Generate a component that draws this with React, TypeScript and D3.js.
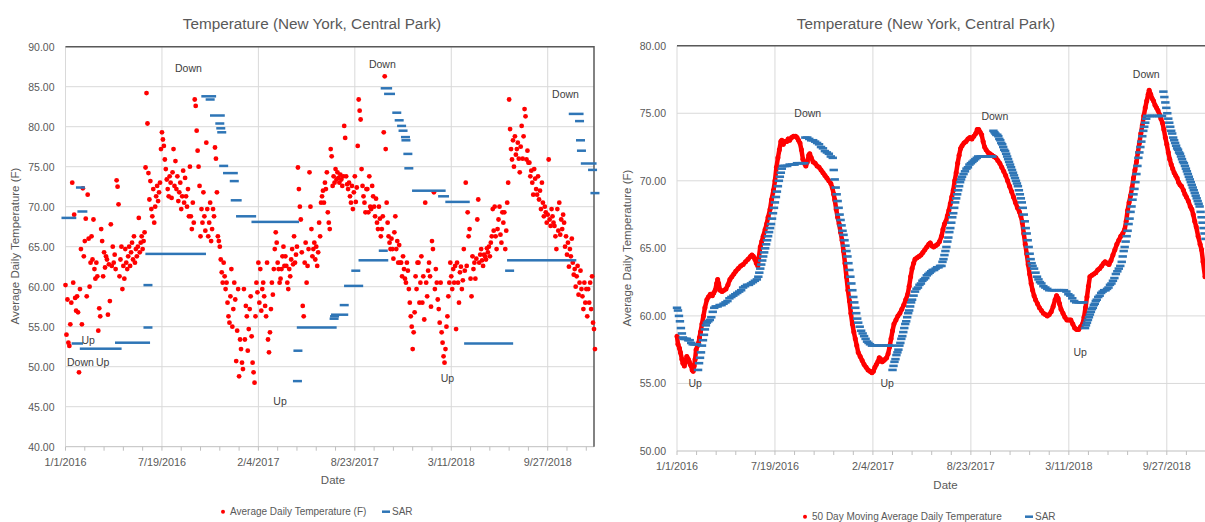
import React, { useEffect, useRef } from "react";
import * as d3 from "d3";

const startDate = new Date(2016, 0, 1);
const axisEnd = new Date(2019, 0, 1);

// Average daily temperature, one reading every 2 days from 1/1/2016
const temps2016 = [
  60.2, 54.0, 58.4, 53.0, 52.6, 55.3, 58.0, 73.0, 60.5, 69.0,
  58.6, 57.0, 58.8, 56.8, 49.3, 59.7, 64.7, 55.3, 72.3, 63.8,
  65.7, 68.5, 58.8, 71.5, 66.0, 60.0, 63.0, 66.3, 63.4, 68.4,
  62.2, 61.0, 63.0, 61.3, 54.5, 57.3, 56.3, 67.2, 65.7, 61.3,
  64.3, 62.4, 63.8, 63.4, 56.5, 62.8, 58.2, 67.8, 62.6, 65.0,
  63.0, 64.0, 62.2, 73.3, 72.5, 70.3, 61.3, 63.4, 65.0, 59.7,
  62.6, 61.0, 64.7, 63.0, 62.2, 63.8, 65.0, 62.6, 64.3, 65.5,
  63.4, 66.3, 63.0, 64.7, 63.8, 65.0, 68.6, 64.3, 65.5, 66.3,
  64.7, 65.7, 66.8, 74.9, 84.2, 80.4, 74.2, 70.9, 73.2, 69.7,
  68.8, 72.2, 68.0, 70.0, 71.3, 72.6, 70.7, 71.8, 73.0, 77.2,
  79.3, 78.4, 77.6, 75.9, 74.7, 73.4, 72.2, 71.3, 73.8, 73.0,
  71.1, 74.3, 77.2, 72.6, 75.7, 72.2, 73.8, 70.7, 71.8, 73.0,
  69.7, 71.3, 74.5, 70.5, 73.6, 71.3, 70.0, 72.2, 68.8, 75.0,
  68.8, 67.2, 70.5, 68.0, 83.4, 82.6, 79.5, 77.0, 75.0, 72.6,
  66.3, 69.7, 68.0, 71.8, 68.8, 67.0, 78.0, 69.7, 66.3, 68.0,
  70.5, 65.7, 67.2, 69.7, 68.8, 77.4, 76.0, 71.8, 66.3, 65.7,
  65.0, 63.4, 61.8, 60.5, 63.0, 61.3, 59.7, 60.5, 58.0, 56.3,
  55.5, 58.8, 62.2, 55.0, 57.2, 60.5, 58.4, 50.7, 54.5, 59.7,
  48.8, 53.4, 52.2,
];
const temps2017 = [
  50.5, 49.7, 59.7, 53.4, 57.6, 56.3, 52.0, 54.7, 57.2, 58.8,
  53.8, 50.5, 49.3, 48.0, 56.3, 60.5, 59.3, 63.0, 58.0, 62.2,
  57.0, 59.7, 60.5, 58.8, 57.6, 56.3, 63.0, 53.4, 51.8, 54.3,
  57.2, 60.5, 59.0, 62.2, 64.7, 66.8, 65.5, 63.0, 62.2, 60.5,
  61.0, 62.2, 63.8, 65.0, 62.6, 63.8, 62.6, 60.5, 59.7, 62.2,
  61.3, 63.4, 64.7, 62.8, 66.3, 63.0, 64.0, 65.0, 74.9, 72.2,
  70.0, 68.4, 64.3, 57.6, 56.3, 63.0, 65.5, 60.5, 62.6, 64.7,
  74.3, 70.0, 67.2, 63.8, 64.7, 65.5, 63.4, 65.0, 62.6, 64.3,
  68.0, 66.3, 70.5, 71.3, 72.0, 70.5, 73.0, 72.2, 74.3, 69.3,
  68.0, 67.2, 77.2, 76.3, 72.6, 73.8, 73.0, 74.7, 73.4, 74.3,
  73.6, 73.0, 74.0, 73.4, 72.6, 73.8, 80.1, 78.6, 73.8, 72.8,
  72.2, 73.0, 71.3, 70.5, 72.6, 69.7, 71.8, 73.8, 70.6, 72.4,
  77.6, 83.4, 82.0, 80.9, 74.7, 72.6, 71.3, 70.5, 69.3, 72.2,
  72.2, 69.3, 73.8, 70.0, 69.7, 72.6, 71.3, 70.0, 68.8, 71.0,
  68.0, 67.2, 70.0, 68.5, 66.3, 67.2, 68.8, 79.3, 86.3, 77.2,
  70.5, 68.0, 66.3, 65.5, 64.7, 66.0, 64.7, 63.5, 66.8, 68.8,
  64.7, 65.7, 63.0, 65.2, 63.0, 63.0, 61.3, 63.8, 62.2, 61.0,
  60.5, 63.0, 62.0, 59.7, 58.0, 56.3, 55.0, 52.2, 54.3, 56.8,
  61.3, 59.7, 63.0,
];
const temps2018 = [
  63.0, 58.0, 60.5, 63.8, 58.0, 61.3, 55.9, 70.5, 60.5, 58.8,
  62.0, 63.0, 61.3, 57.5, 65.7, 64.7, 71.8, 59.7, 62.2, 60.5,
  58.4, 57.2, 55.5, 60.5, 54.3, 53.0, 51.3, 50.5, 52.2, 55.0,
  56.3, 58.8, 60.5, 63.0, 61.3, 59.7, 62.2, 60.5, 62.6, 54.7,
  63.0, 60.5, 58.0, 61.8, 62.5, 59.7, 60.8, 64.7, 62.0, 73.0,
  62.6, 69.3, 66.3, 67.2, 61.0, 58.8, 63.8, 62.2, 63.0, 61.0,
  63.5, 68.4, 70.9, 63.0, 64.0, 64.7, 63.3, 62.6, 64.0, 63.8,
  63.4, 64.8, 64.3, 65.0, 63.8, 65.5, 66.3, 69.7, 67.0, 70.0,
  66.3, 64.7, 67.2, 68.4, 70.0, 66.5, 65.5, 69.3, 68.0, 69.3,
  64.7, 67.0, 70.5, 73.0, 83.4, 79.7, 77.2, 75.9, 78.3, 75.0,
  78.8, 76.5, 77.2, 78.0, 76.0, 74.3, 77.5, 80.1, 76.0, 78.8,
  82.2, 81.3, 75.9, 77.0, 75.5, 75.5, 73.8, 74.5, 73.0, 71.5,
  74.7, 73.5, 72.2, 71.5, 73.8, 70.9, 72.0, 69.7, 73.0, 70.5,
  68.8, 70.0, 69.3, 68.0, 69.0, 75.9, 68.4, 67.6, 69.7, 68.8,
  68.0, 67.6, 66.3, 64.7, 69.7, 67.0, 70.5, 66.5, 68.4, 67.2,
  69.0, 68.0, 65.0, 66.3, 64.0, 65.5, 62.5, 64.7, 63.8, 66.0,
  63.0, 61.5, 62.2, 60.0, 61.3, 62.6, 59.0, 60.5, 62.0, 59.7,
  58.8, 57.2, 60.5, 58.0, 59.7, 56.3, 59.7, 58.0, 60.5, 57.2,
  61.3, 55.5, 54.7, 52.2,
];
const tempStep = 2;

// SAR of the daily temperatures: [first day, last day, value], days since 1/1/2016
const sarDaily = [
  [1, 13, 68.6], [22, 27, 52.9], [31, 31, 72.4], [34, 36, 69.4], [39, 107, 52.25],
  [112, 166, 53.0], [171, 171, 54.9], [171, 171, 60.2], [175, 282, 64.1],
  [291, 303, 83.8], [300, 300, 83.4], [309, 321, 81.4], [320, 320, 80.4],
  [322, 322, 79.8], [324, 324, 79.3], [328, 328, 75.1], [336, 348, 74.2],
  [350, 350, 73.2], [352, 356, 70.8], [363, 386, 68.8], [395, 475, 68.1],
  [481, 481, 48.2], [482, 482, 52.0], [489, 553, 54.9], [557, 557, 56.0],
  [558, 558, 56.3], [560, 577, 56.5], [578, 578, 57.7], [587, 608, 60.1],
  [602, 602, 62.0], [617, 660, 63.3], [659, 659, 64.5], [663, 668, 84.8],
  [670, 674, 84.1], [687, 687, 81.75], [692, 692, 80.8], [697, 697, 80.1],
  [700, 700, 79.5], [705, 705, 78.7], [706, 706, 78.3], [710, 710, 76.6],
  [712, 712, 74.8], [728, 779, 72.0], [782, 786, 71.3], [797, 829, 70.6],
  [836, 919, 52.9], [921, 921, 62.0], [925, 1050, 63.3], [1053, 1065, 81.6],
  [1066, 1066, 80.7], [1068, 1068, 78.3], [1070, 1070, 77.0], [1078, 1092, 75.4],
  [1093, 1093, 74.6], [1098, 1098, 71.7],
];

// 50 day moving average: [day, value]
const movingAvg2016 = [
  [0, 58.5], [2, 57.9], [5, 57.6], [7, 57.3], [10, 56.8], [12, 56.5], [15, 56.3], [18, 56.7],
  [20, 57.0], [23, 56.8], [25, 56.6], [27, 56.4], [29, 56.3], [31, 56.0], [33, 55.9], [35, 56.3],
  [37, 56.8], [39, 57.5], [42, 57.8], [44, 58.0], [46, 58.4], [48, 58.8], [51, 59.4], [54, 60.0],
  [57, 60.6], [61, 61.2], [64, 61.4], [68, 61.6], [72, 61.5], [75, 61.7], [78, 61.9], [81, 62.4],
  [83, 62.7], [85, 62.4], [88, 61.9], [92, 61.8], [96, 61.9], [100, 62.0], [104, 62.3], [108, 62.7],
  [112, 62.9], [116, 63.1], [120, 63.3], [125, 63.5], [130, 63.7], [135, 63.8], [140, 64.0],
  [145, 64.2], [150, 64.4], [153, 64.5], [156, 64.4], [159, 64.2], [162, 63.9], [165, 63.7],
  [167, 64.3], [170, 65.1], [173, 65.5], [176, 65.9], [180, 66.4], [183, 66.8], [186, 67.3],
  [190, 67.9], [193, 68.6], [197, 69.3], [200, 70.0], [203, 71.0], [206, 71.7], [209, 72.3],
  [212, 72.9], [214, 73.0], [217, 72.7], [220, 72.9], [224, 72.9], [227, 73.1], [230, 73.0],
  [234, 73.2], [238, 73.3], [242, 73.3], [245, 73.2], [248, 73.0], [251, 72.8], [254, 72.3],
  [257, 71.6], [260, 71.3], [263, 71.1], [266, 71.4], [269, 71.9], [271, 72.0], [274, 71.7],
  [278, 71.4], [282, 71.3], [286, 71.1], [290, 71.0], [294, 70.8], [298, 70.6], [302, 70.4],
  [306, 70.2], [310, 70.0], [314, 69.8], [317, 69.5], [320, 69.0], [322, 68.6], [325, 67.9],
  [328, 67.3], [331, 66.8], [334, 66.2], [337, 65.6], [340, 64.8], [343, 63.9], [346, 62.9],
  [349, 61.9], [352, 61.1], [355, 60.2], [358, 59.4], [361, 58.8], [364, 58.3],
];
const movingAvg2017 = [
  [367, 57.8], [370, 57.3], [374, 57.0], [378, 56.7], [382, 56.4], [386, 56.2], [390, 56.0],
  [394, 55.9], [398, 55.8], [401, 55.9], [404, 56.2], [407, 56.4], [410, 56.6], [413, 56.9],
  [416, 56.8], [419, 56.6], [422, 56.7], [425, 56.8], [428, 56.9], [431, 57.2], [434, 57.7],
  [437, 58.3], [440, 58.9], [443, 59.4], [447, 59.7], [451, 60.0], [455, 60.2], [459, 60.5],
  [463, 60.8], [467, 61.2], [471, 61.6], [474, 62.2], [477, 62.9], [480, 63.5], [483, 63.9],
  [486, 64.2], [490, 64.3], [494, 64.4], [498, 64.5], [502, 64.7], [506, 64.9], [510, 65.1],
  [514, 65.3], [517, 65.4], [520, 65.2], [524, 65.1], [528, 65.2], [532, 65.3], [536, 65.5],
  [540, 65.9], [543, 66.4], [546, 66.8], [549, 67.0], [552, 67.4], [555, 67.8], [558, 68.3],
  [561, 68.8], [564, 69.3], [567, 70.0], [570, 70.6], [573, 71.3], [576, 71.9], [579, 72.4],
  [582, 72.6], [586, 72.8], [590, 72.9], [594, 73.1], [598, 73.2], [602, 73.1], [606, 73.3],
  [610, 73.5], [613, 73.8], [616, 73.8], [619, 73.6], [622, 73.4], [625, 72.9], [628, 72.5],
  [631, 72.3], [635, 72.1], [639, 72.0], [643, 71.9], [647, 71.8], [651, 71.7], [655, 71.5],
  [659, 71.3], [663, 71.0], [667, 70.7], [671, 70.4], [675, 70.0], [679, 69.6], [683, 69.2],
  [687, 68.8], [691, 68.4], [695, 68.0], [699, 67.7], [702, 67.4], [705, 66.9], [708, 66.1],
  [711, 65.3], [714, 64.6], [717, 63.8], [720, 63.1], [723, 62.4], [726, 61.9], [729, 61.5],
];
const movingAvg2018 = [
  [732, 61.2], [736, 60.9], [740, 60.6], [744, 60.4], [748, 60.2], [752, 60.1], [756, 60.0],
  [760, 60.1], [764, 60.3], [768, 60.7], [772, 61.2], [775, 61.5], [778, 61.3], [781, 60.9],
  [784, 60.5], [788, 60.2], [792, 59.9], [796, 59.7], [800, 59.7], [804, 59.7], [808, 59.4],
  [812, 59.1], [816, 59.0], [820, 59.0], [824, 59.2], [828, 59.4], [831, 59.9], [834, 60.6],
  [837, 61.4], [840, 62.2], [843, 62.9], [847, 63.0], [851, 63.1], [855, 63.2], [859, 63.4],
  [863, 63.5], [867, 63.7], [871, 63.9], [874, 64.0], [878, 63.9], [882, 63.8], [886, 64.1],
  [890, 64.5], [894, 64.9], [898, 65.3], [902, 65.6], [906, 65.9], [910, 66.1], [914, 66.4],
  [917, 67.0], [920, 67.8], [923, 68.4], [926, 68.9], [929, 69.5], [932, 70.2], [935, 70.8],
  [938, 71.4], [941, 72.1], [944, 72.8], [947, 73.5], [950, 74.1], [953, 74.8], [956, 75.4],
  [959, 75.9], [962, 76.4], [964, 76.7], [967, 76.4], [970, 76.1], [973, 75.9], [976, 75.6],
  [979, 75.4], [982, 75.2], [985, 74.9], [988, 74.6], [991, 74.3], [994, 73.8], [997, 73.2],
  [1000, 72.7], [1003, 72.1], [1006, 71.6], [1009, 71.2], [1012, 70.9], [1015, 70.6],
  [1018, 70.4], [1021, 70.2], [1024, 69.9], [1027, 69.7], [1030, 69.6], [1034, 69.3],
  [1037, 69.0], [1040, 68.8], [1044, 68.5], [1048, 68.1], [1051, 67.9], [1054, 67.5],
  [1057, 67.0], [1060, 66.6], [1064, 65.9], [1068, 65.3], [1071, 64.9], [1074, 64.0], [1078, 62.9],
];

// SAR of the moving average: [day, value]
const sarAvg2016 = [
  [0, 60.6], [2, 60.4], [4, 60.0], [6, 59.6], [8, 59.1], [10, 58.7], [12, 58.4], [14, 58.3],
  [17, 58.3], [20, 58.3], [23, 58.2], [26, 58.2], [29, 58.0], [32, 57.9], [35, 57.9], [38, 57.9],
  [41, 57.9], [43, 56.0], [45, 56.5], [47, 56.9], [49, 57.3], [51, 57.8], [53, 58.2], [55, 58.6],
  [57, 59.0], [59, 59.3], [61, 59.5], [64, 59.6], [67, 59.7], [70, 59.9], [73, 60.3], [76, 60.6],
  [79, 60.7], [83, 60.7], [87, 60.8], [91, 60.8], [95, 60.9], [99, 61.0], [103, 61.1], [107, 61.3],
  [111, 61.4], [115, 61.5], [119, 61.6], [123, 61.7], [127, 61.8], [131, 61.9], [135, 62.1],
  [139, 62.2], [143, 62.3], [147, 62.3], [151, 62.4], [155, 62.5], [159, 62.6], [163, 62.7],
  [166, 62.9], [168, 63.2], [170, 63.5], [172, 63.8], [174, 64.1], [176, 64.4], [178, 64.7],
  [180, 65.0], [182, 65.3], [184, 65.6], [186, 65.9], [188, 66.2], [190, 66.5], [192, 66.8],
  [194, 67.2], [196, 67.6], [198, 68.0], [200, 68.4], [202, 68.8], [204, 69.2], [206, 69.6],
  [208, 70.0], [210, 70.3], [212, 70.6], [214, 70.9], [216, 71.1], [220, 71.1], [225, 71.1],
  [230, 71.2], [235, 71.2], [240, 71.2], [245, 71.3], [250, 71.3], [255, 71.3], [260, 71.3],
  [262, 73.2], [266, 73.2], [270, 73.1], [274, 73.0], [278, 73.0], [282, 72.9], [286, 72.8],
  [290, 72.7], [294, 72.5], [298, 72.4], [302, 72.2], [306, 72.1], [310, 72.0], [314, 71.8],
  [318, 71.7], [320, 70.8], [322, 70.1], [324, 69.5], [326, 69.0], [328, 68.5], [330, 68.0],
  [332, 67.5], [334, 67.1], [336, 66.7], [338, 66.3], [340, 66.0], [342, 65.6], [344, 65.2],
  [346, 64.8], [348, 64.4], [350, 63.9], [352, 63.4], [354, 62.9], [356, 62.4], [358, 61.9],
  [360, 61.4], [362, 61.0], [364, 60.6],
];
const sarAvg2017 = [
  [366, 60.2], [368, 59.8], [370, 59.5], [373, 59.2], [376, 58.9], [379, 58.7], [382, 58.5],
  [385, 58.3], [388, 58.1], [391, 58.0], [394, 57.9], [398, 57.8], [403, 57.8], [408, 57.8],
  [413, 57.8], [418, 57.8], [423, 57.8], [428, 57.8], [433, 57.8], [438, 57.8],
  [440, 56.0], [442, 56.3], [444, 56.6], [446, 56.8], [448, 57.1], [450, 57.3], [452, 57.5],
  [454, 57.8], [456, 58.0], [458, 58.3], [460, 58.5], [462, 58.8], [464, 59.1], [466, 59.4],
  [468, 59.6], [470, 59.9], [472, 60.2], [474, 60.4], [476, 60.7], [478, 61.0], [480, 61.2],
  [483, 61.5], [486, 61.8], [489, 62.0], [492, 62.1], [495, 62.3], [498, 62.4], [501, 62.6],
  [504, 62.7], [507, 62.8], [510, 63.0], [513, 63.1], [516, 63.2], [519, 63.3], [522, 63.4],
  [525, 63.4], [528, 63.5], [531, 63.6], [534, 63.6], [537, 63.7], [540, 63.7], [542, 64.0],
  [544, 64.2], [546, 64.5], [548, 64.8], [550, 65.1], [552, 65.5], [554, 65.8], [556, 66.2],
  [558, 66.5], [560, 66.9], [562, 67.3], [564, 67.6], [566, 68.0], [568, 68.4], [570, 68.7],
  [572, 69.0], [574, 69.3], [576, 69.6], [578, 69.9], [580, 70.1], [582, 70.3], [585, 70.5],
  [588, 70.7], [591, 70.9], [594, 71.0], [597, 71.2], [600, 71.3], [603, 71.4], [606, 71.5],
  [609, 71.6], [612, 71.7], [615, 71.8], [620, 71.8], [625, 71.8], [630, 71.8], [635, 71.8],
  [640, 71.8], [644, 71.8],
  [646, 73.7], [648, 73.6], [650, 73.5], [652, 73.4], [654, 73.4], [656, 73.3], [658, 73.1],
  [660, 73.0], [662, 72.8], [664, 72.7], [666, 72.5], [668, 72.3], [670, 72.2], [672, 72.0],
  [674, 71.8], [676, 71.6], [678, 71.4], [680, 71.2], [682, 71.0], [684, 70.8], [686, 70.6],
  [688, 70.4], [690, 70.2], [692, 70.0], [694, 69.8], [696, 69.6], [698, 69.3], [700, 69.0],
  [702, 68.7], [704, 68.4], [706, 68.0], [708, 67.5], [710, 67.0], [712, 66.5], [714, 66.1],
  [716, 65.6], [718, 65.1], [720, 64.6], [722, 64.2], [724, 63.9], [726, 63.7], [729, 63.5],
];
const sarAvg2018 = [
  [732, 63.2], [735, 62.9], [738, 62.7], [741, 62.5], [744, 62.4], [748, 62.2], [752, 62.1],
  [756, 62.0], [760, 61.9], [765, 61.9], [770, 61.9], [775, 61.9], [780, 61.9], [785, 61.9],
  [790, 61.9], [795, 61.8], [799, 61.6], [803, 61.5], [807, 61.3], [811, 61.1], [815, 61.0],
  [820, 61.0], [825, 61.0], [830, 61.0],
  [833, 59.1], [835, 59.3], [837, 59.5], [839, 59.7], [841, 59.9], [843, 60.1], [845, 60.3],
  [847, 60.5], [849, 60.6], [851, 60.8], [853, 60.9], [855, 61.1], [857, 61.2], [860, 61.4],
  [863, 61.5], [866, 61.7], [869, 61.8], [872, 61.9], [875, 61.9], [878, 62.0], [881, 62.1],
  [884, 62.3], [887, 62.4], [890, 62.6], [893, 62.8], [896, 63.1], [899, 63.3], [902, 63.5],
  [905, 63.7], [908, 64.0], [910, 64.4], [912, 64.8], [914, 65.1], [916, 65.5], [918, 65.9],
  [920, 66.3], [922, 66.8], [924, 67.2], [926, 67.7], [928, 68.1], [930, 68.6], [932, 69.0],
  [934, 69.4], [936, 69.9], [938, 70.5], [940, 71.1], [942, 71.7], [944, 72.1], [946, 72.5],
  [948, 72.9], [950, 73.3], [952, 73.7], [954, 74.0], [956, 74.3], [958, 74.6], [960, 74.8],
  [965, 74.8], [970, 74.8], [975, 74.8], [980, 74.8], [985, 74.8], [990, 74.8],
  [993, 76.6], [995, 76.2], [997, 75.8], [999, 75.4], [1001, 75.0], [1003, 74.6], [1005, 74.3],
  [1007, 74.0], [1009, 73.7], [1011, 73.5], [1013, 73.2], [1015, 73.0], [1017, 72.8],
  [1019, 72.6], [1021, 72.4], [1023, 72.3], [1025, 72.1], [1027, 72.0], [1029, 71.8],
  [1031, 71.6], [1033, 71.4], [1035, 71.3], [1037, 71.1], [1039, 70.9], [1041, 70.7],
  [1043, 70.5], [1045, 70.3], [1047, 70.1], [1049, 69.9], [1051, 69.7], [1053, 69.5],
  [1055, 69.3], [1057, 69.1], [1059, 68.9], [1061, 68.7], [1063, 68.5], [1065, 68.3],
  [1067, 68.1], [1069, 67.7], [1071, 67.3], [1073, 66.9], [1075, 66.5], [1077, 66.1], [1079, 65.7],
];

// reversal labels: [day, value, text]
const turnsDaily = [
  [255, 87.4, "Down"], [47, 53.4, "Up"], [31, 50.6, "Down"], [77, 50.6, "Up"],
  [657, 87.8, "Down"], [445, 45.7, "Up"], [792, 48.65, "Up"], [1037, 84.1, "Down"],
];
const turnsAvg = [
  [37, 55.0, "Up"], [267, 75.0, "Down"], [429, 55.05, "Up"], [649, 74.8, "Down"],
  [823, 57.35, "Up"], [958, 77.9, "Down"],
];

const title = "Temperature (New York, Central Park)";
const yTitle = "Average Daily Temperature (F)";
const FONT = "'Liberation Sans', Arial, sans-serif";
const RED = "#ff0000";
const BLUE = "#2e75b6";
const TXT = "#595959";

const dayDate = (d) => d3.timeDay.offset(startDate, d);

function drawPanel(svg, p) {
  const x = d3.scaleTime().domain([startDate, axisEnd]).range([p.left, p.right]);
  const y = d3.scaleLinear().domain(p.yDomain).range([p.bottom, p.top]);
  const g = svg.append("g");

  const yTicks = d3.range(p.yDomain[0], p.yDomain[1] + 0.01, 5);
  const majors = d3.range(0, 1097, 200).map(dayDate);
  const minors = d3.range(0, 1097, 40).map(dayDate);

  g.selectAll(".hgrid").data(yTicks.slice(1)).join("line")
    .attr("x1", p.left).attr("x2", p.right)
    .attr("y1", d => y(d)).attr("y2", d => y(d))
    .attr("stroke", "#d9d9d9").attr("stroke-width", 1);
  g.selectAll(".vgrid").data(majors).join("line")
    .attr("x1", d => x(d)).attr("x2", d => x(d))
    .attr("y1", p.top).attr("y2", p.bottom)
    .attr("stroke", "#d9d9d9").attr("stroke-width", 1);

  g.append("line").attr("x1", p.left).attr("x2", p.right)
    .attr("y1", p.bottom).attr("y2", p.bottom).attr("stroke", "#bfbfbf");
  g.selectAll(".tick").data(minors).join("line")
    .attr("x1", d => x(d)).attr("x2", d => x(d))
    .attr("y1", p.bottom).attr("y2", p.bottom + 4)
    .attr("stroke", "#bfbfbf");

  // plot border (top and right)
  g.append("path")
    .attr("d", `M${p.left},${p.top}H${p.right}V${p.bottom}`)
    .attr("fill", "none").attr("stroke", "#595959").attr("stroke-width", 1.5);

  g.selectAll(".ylab").data(yTicks).join("text")
    .attr("x", p.left - 11).attr("y", d => y(d))
    .attr("text-anchor", "end").attr("dominant-baseline", "central")
    .style("font-size", "10.5px").style("font-family", FONT).attr("fill", TXT)
    .text(d => d3.format(".2f")(d));
  g.selectAll(".xlab").data(majors).join("text")
    .attr("x", d => x(d)).attr("y", p.bottom + 15)
    .attr("text-anchor", "middle").attr("dominant-baseline", "central")
    .style("font-size", "10.8px").style("font-family", FONT).attr("fill", TXT)
    .text(d => d3.timeFormat("%-m/%-d/%Y")(d));

  g.append("text").attr("x", p.titleX).attr("y", 23)
    .attr("text-anchor", "middle").attr("dominant-baseline", "central")
    .style("font-size", "15.3px").style("font-family", FONT).attr("fill", TXT)
    .text(title);
  g.append("text").attr("x", p.dateX).attr("y", p.dateY)
    .attr("text-anchor", "middle").attr("dominant-baseline", "central")
    .style("font-size", "11.5px").style("font-family", FONT).attr("fill", TXT)
    .text("Date");
  g.append("text")
    .attr("transform", `translate(${p.yTitleX},${p.yTitleY}) rotate(-90)`)
    .attr("text-anchor", "middle").attr("dominant-baseline", "central")
    .style("font-size", "11.5px").style("font-family", FONT).attr("fill", TXT)
    .text(yTitle);

  p.drawSeries(g, x, y);

  g.selectAll(".turn").data(p.turns).join("text")
    .attr("x", d => x(dayDate(d[0]))).attr("y", d => y(d[1]))
    .attr("text-anchor", "middle").attr("dominant-baseline", "central")
    .style("font-size", "10.5px").style("font-family", FONT).attr("fill", "#404040")
    .text(d => d[2]);

  // legend
  const lg = g.append("g").attr("transform", `translate(0,${p.legendY})`);
  lg.append("circle").attr("cx", p.legendX).attr("cy", 0).attr("r", 2).attr("fill", RED);
  lg.append("text").attr("x", p.legendX + 7).attr("y", 0).attr("dominant-baseline", "central")
    .style("font-size", "10px").style("font-family", FONT).attr("fill", TXT)
    .text(p.legendLabel);
  lg.append("rect").attr("x", p.sarLegendX).attr("y", -1.25).attr("width", 8).attr("height", 2.5)
    .attr("fill", BLUE);
  lg.append("text").attr("x", p.sarLegendX + 10).attr("y", 0).attr("dominant-baseline", "central")
    .style("font-size", "10px").style("font-family", FONT).attr("fill", TXT)
    .text("SAR");
}

const dailyTemps = [...temps2016, ...temps2017, ...temps2018];

const leftPanel = {
  left: 65.5, right: 594, top: 46.7, bottom: 446.7, yDomain: [40, 90],
  titleX: 312, dateX: 333, dateY: 480, yTitleX: 15, yTitleY: 246,
  legendY: 511.7, legendX: 223, sarLegendX: 382,
  legendLabel: "Average Daily Temperature (F)",
  turns: turnsDaily,
  drawSeries: (g, x, y) => {
    g.selectAll(".temp").data(dailyTemps).join("circle")
      .attr("cx", (d, i) => x(dayDate(i * tempStep))).attr("cy", d => y(d))
      .attr("r", 2.4).attr("fill", RED);
    g.selectAll(".sar").data(sarDaily).join("rect")
      .attr("x", d => x(dayDate(d[0])) - 4.5)
      .attr("width", d => x(dayDate(d[1])) - x(dayDate(d[0])) + 9)
      .attr("y", d => y(d[2]) - 1.25).attr("height", 2.5)
      .attr("fill", BLUE);
  },
};

const avgData = [...movingAvg2016, ...movingAvg2017, ...movingAvg2018];
const sarAvgData = [...sarAvg2016, ...sarAvg2017, ...sarAvg2018];

const rightPanel = {
  left: 677, right: 677 + 1096 * 0.4898, top: 45.7, bottom: 451, yDomain: [50, 80],
  titleX: 926, dateX: 945.5, dateY: 485, yTitleX: 627, yTitleY: 248,
  legendY: 516.7, legendX: 805, sarLegendX: 1025,
  legendLabel: "50 Day Moving Average Daily Temperature",
  turns: turnsAvg,
  drawSeries: (g, x, y) => {
    const line = d3.line().x(d => x(dayDate(d[0]))).y(d => y(d[1]));
    g.append("path").datum(avgData).attr("d", line)
      .attr("fill", "none").attr("stroke", RED).attr("stroke-width", 4.5)
      .attr("stroke-linejoin", "round");
    g.selectAll(".avg").data(avgData).join("circle")
      .attr("cx", d => x(dayDate(d[0]))).attr("cy", d => y(d[1]))
      .attr("r", 2.5).attr("fill", RED);
    g.selectAll(".sar").data(sarAvgData).join("rect")
      .attr("x", d => x(dayDate(d[0])) - 4.2).attr("width", 8.4)
      .attr("y", d => y(d[1]) - 1.3).attr("height", 2.6)
      .attr("fill", BLUE);
  },
};

const App = () => {
  const svgRef = useRef(null);
  useEffect(() => {
    const svg = d3.select(svgRef.current);
    svg.selectAll("*").remove();
    svg.append("rect").attr("width", 1205).attr("height", 522).attr("fill", "#fff");
    drawPanel(svg, leftPanel);
    drawPanel(svg, rightPanel);
  }, []);
  return (
    <svg
      ref={svgRef}
      width={1205}
      height={522}
      style={{ position: "absolute", left: 0, top: 0, display: "block" }}
    />
  );
};

export default App;
